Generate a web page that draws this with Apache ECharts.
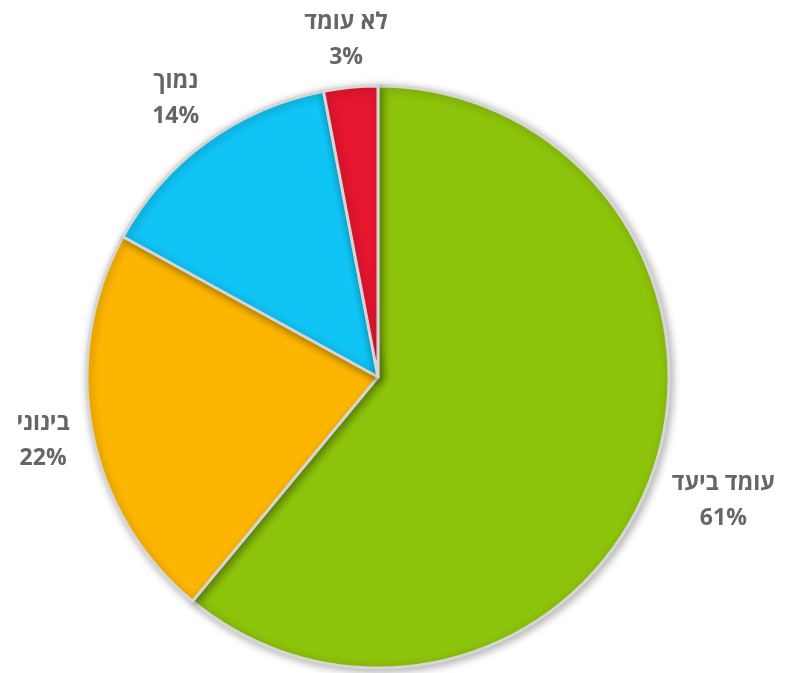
<!DOCTYPE html>
<html><head><meta charset="utf-8">
<script src="https://cdn.jsdelivr.net/npm/echarts@6/dist/echarts.min.js"></script>
<style>html,body{margin:0;padding:0;background:#fff}#c{width:787px;height:673px}</style>
</head><body><div id="c"></div>
<script>
const categories = ['עומד ביעד', 'בינוני', 'נמוך', 'לא עומד'];
const values = [61, 22, 14, 3];
const colors = ['#8cc30b', '#fdb600', '#10c4f5', '#e6162f'];

const CX = 378, CY = 377, R = 291, GAP = 19;
const total = values.reduce((a, b) => a + b, 0);
const midAngles = [];
(function () {
  let cum = 0;
  values.forEach(v => { midAngles.push((cum + v / 2) / total * 2 * Math.PI); cum += v; });
})();

const chart = echarts.init(document.getElementById('c'));
chart.setOption({
  animation: false,
  backgroundColor: '#fff',
  series: [{
    type: 'pie',
    center: [CX, CY],
    radius: [0, R],
    startAngle: 90,
    clockwise: true,
    avoidLabelOverlap: false,
    data: categories.map((n, i) => ({ name: n, value: values[i], itemStyle: { color: colors[i] } })),
    itemStyle: {
      borderColor: '#d6d6d6', borderWidth: 3,
      shadowBlur: 8, shadowColor: 'rgba(0,0,0,0.3)', shadowOffsetX: 2, shadowOffsetY: 2
    },
    label: {
      show: true,
      position: 'outside',
      formatter: '{b}\n{d}%',
      color: '#666666',
      fontFamily: '"Open Sans", "DejaVu Sans", sans-serif',
      fontWeight: 'bold',
      fontSize: 23,
      lineHeight: 35
    },
    labelLine: { show: false, length: 10, length2: 0 },
    labelLayout: function (p) {
      const t = midAngles[p.dataIndex];
      const s = Math.sin(t), c = Math.cos(t);
      const w = p.labelRect.width, h = p.labelRect.height;
      const d = R + GAP + Math.abs(s) * w / 2 + Math.abs(c) * h * 0.36;
      return { x: CX + d * s, y: CY - d * c, align: 'center', verticalAlign: 'middle' };
    }
  }]
});
</script></body></html>
